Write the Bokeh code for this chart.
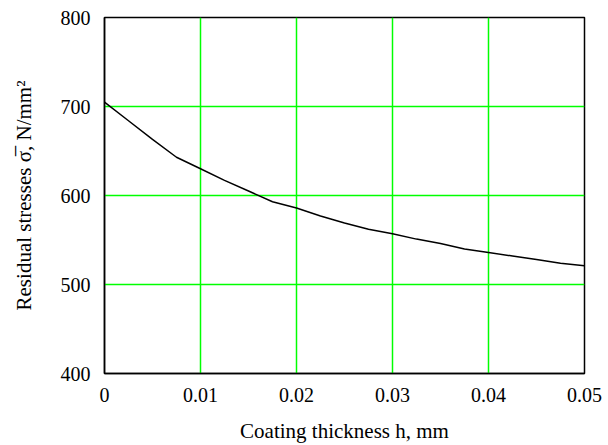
from bokeh.plotting import figure
from bokeh.models import FixedTicker, Range1d
from bokeh.embed import file_html
from bokeh.resources import INLINE

h_mm = [0.0, 0.0025, 0.005, 0.0075, 0.01, 0.0125, 0.015, 0.0175, 0.02, 0.0225,
        0.025, 0.0275, 0.03, 0.0325, 0.035, 0.0375, 0.04, 0.0425, 0.045, 0.0475, 0.05]
sigma = [705, 684, 663, 643, 630, 617, 605, 593, 586, 577,
         569, 562, 557, 551, 546, 540, 536, 532, 528, 524, 521]

x_ticks = [0, 0.01, 0.02, 0.03, 0.04, 0.05]
x_tick_labels = ["0", "0.01", "0.02", "0.03", "0.04", "0.05"]
y_ticks = [400, 500, 600, 700, 800]

x_title = "Coating thickness h, mm"
y_title = "Residual stresses σ\u0305, N/mm²"

FONT = "Liberation Serif"

p = figure(width=608, height=445, output_backend="svg", toolbar_location=None,
           x_range=Range1d(0, 0.05), y_range=Range1d(400, 800),
           min_border_left=104, min_border_right=24, min_border_top=17, min_border_bottom=68)

p.line(h_mm, sigma, line_color="black", line_width=1.5)

p.xaxis.ticker = FixedTicker(ticks=x_ticks)
p.xaxis.major_label_overrides = {t: l for t, l in zip(x_ticks, x_tick_labels)}
p.yaxis.ticker = FixedTicker(ticks=y_ticks)

for ax in (p.xaxis[0], p.yaxis[0]):
    ax.major_tick_line_color = None
    ax.minor_tick_line_color = None
    ax.axis_line_color = "black"
    ax.axis_line_width = 1.5
    ax.major_label_text_font = FONT
    ax.major_label_text_font_size = "20px"
    ax.major_label_text_color = "black"
    ax.major_label_standoff = 8
    ax.axis_label_text_font = FONT
    ax.axis_label_text_font_size = "21px"
    ax.axis_label_text_font_style = "normal"
    ax.axis_label_text_color = "black"

p.xaxis.axis_label = x_title
p.yaxis.axis_label = y_title
p.xaxis.axis_label_standoff = 14
p.yaxis.axis_label_standoff = 22

p.xgrid.ticker = FixedTicker(ticks=x_ticks)
p.ygrid.ticker = FixedTicker(ticks=y_ticks)
p.grid.grid_line_color = "#00ff00"
p.grid.grid_line_width = 1.5
p.grid.grid_line_alpha = 1.0

p.outline_line_color = "black"
p.outline_line_width = 1.5
p.outline_line_alpha = 1.0
p.background_fill_color = "white"
p.border_fill_color = "white"

open("out.html", "w").write(file_html(p, INLINE))
